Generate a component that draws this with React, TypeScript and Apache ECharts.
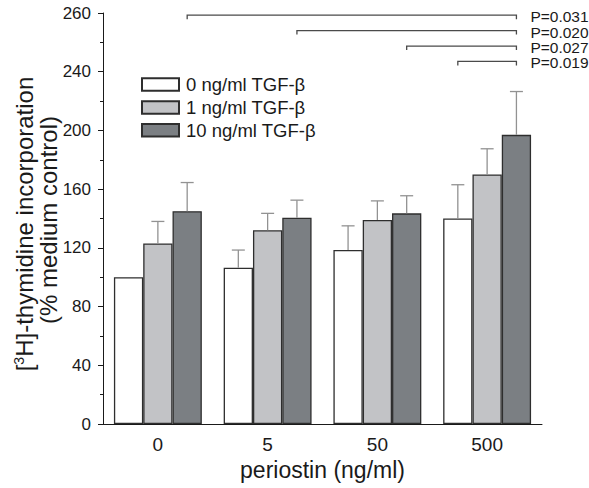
import React, { useEffect, useRef } from "react";
import * as echarts from "echarts";

const categories = ["0", "5", "50", "500"];
const seriesNames = ["0 ng/ml TGF-β", "1 ng/ml TGF-β", "10 ng/ml TGF-β"];
const valWhite = [100, 106.5, 118.5, 140];
const valLight = [123, 132, 139, 170];
const valDark = [145, 140.5, 143.5, 197];
const errWhite = [0, 12, 16.5, 23];
const errLight = [15, 11.5, 13, 17.5];
const errDark = [19.5, 12, 12, 29.5];
// brackets: [fromCategory, fromBar, toCategory, toBar, level]
const bracketFrom = [[0, 2], [1, 2], [2, 2], [3, 0]];
const bracketTo = [3, 2];
const bracketLevels = [278.5, 268, 257.5, 247];
const pLabels = ["P=0.031", "P=0.020", "P=0.027", "P=0.019"];
const yTickTopLabel = "260";

const FONT = "'Liberation Sans', Arial, Helvetica, sans-serif";
const BAR_W = 29.3;
const COLORS = ["#ffffff", "#c2c3c6", "#7b7f83"];
const BORDER = "#2e2e2e";

export default function App() {
  const ref = useRef<HTMLDivElement>(null);
  useEffect(() => {
    if (!ref.current) return;
    const chart = echarts.init(ref.current, null, { renderer: "svg" });
    const vals = [valWhite, valLight, valDark];
    const errs = [errWhite, errLight, errDark];
    const errData: number[][] = [];
    vals.forEach((arr, s) =>
      arr.forEach((v, c) => errData.push([c, s, v, errs[s][c]]))
    );
    const bracketData = bracketFrom.map((f, i) => [
      f[0], f[1], bracketTo[0], bracketTo[1], bracketLevels[i], i,
    ]);

    const barSeries = seriesNames.map((name, s) => ({
      name,
      type: "bar",
      data: vals[s],
      barWidth: BAR_W,
      barGap: "0%",
      itemStyle: { color: COLORS[s], borderColor: BORDER, borderWidth: 1.3 },
      z: 2,
    }));

    chart.setOption({
      animation: false,
      textStyle: { fontFamily: FONT },
      grid: { left: 103, right: 47, top: 13, bottom: 64, containLabel: false },
      legend: {
        data: seriesNames,
        orient: "vertical",
        left: 136,
        top: 69.5,
        itemWidth: 37,
        itemHeight: 12.5,
        itemGap: 2.9,
        icon: "rect",
        selectedMode: false,
        textStyle: {
          fontSize: 18.5,
          lineHeight: 20,
          color: "#1a1a1a",
          fontFamily: FONT,
          padding: [0, 0, 0, 2],
        },
      },
      xAxis: [
        {
          type: "category",
          data: categories,
          position: "bottom",
          axisLine: { lineStyle: { color: "#1a1a1a", width: 1 } },
          axisTick: { alignWithLabel: true, length: 6, lineStyle: { color: "#1a1a1a" } },
          axisLabel: { fontSize: 19, color: "#1a1a1a", margin: 11, fontFamily: FONT },
          name: "periostin (ng/ml)",
          nameLocation: "middle",
          nameGap: 32,
          nameTextStyle: { fontSize: 23, color: "#1a1a1a", fontFamily: FONT },
        },
        {
          type: "category",
          data: categories,
          position: "bottom",
          axisLine: { show: false },
          axisTick: { length: 3, lineStyle: { color: "#1a1a1a" } },
          axisLabel: { show: false },
        },
      ],
      yAxis: {
        type: "value",
        min: 0,
        max: 280,
        interval: 40,
        axisLine: { show: true, lineStyle: { color: "#1a1a1a", width: 1 } },
        axisTick: { show: true, length: 5, lineStyle: { color: "#1a1a1a" } },
        minorTick: { show: true, splitNumber: 2, length: 3, lineStyle: { color: "#1a1a1a" } },
        splitLine: { show: false },
        axisLabel: {
          fontSize: 17,
          color: "#1a1a1a",
          margin: 12,
          fontFamily: FONT,
          formatter: (v: number) => (v === 280 ? yTickTopLabel : String(v)),
        },
      },
      graphic: [
        {
          type: "text",
          x: 24,
          y: 224,
          rotation: Math.PI / 2,
          style: {
            text: "[{sup|3}H]-thymidine incorporation",
            fontSize: 24,
            fontFamily: FONT,
            fill: "#1a1a1a",
            align: "center",
            verticalAlign: "middle",
            rich: {
              sup: { fontSize: 14, verticalAlign: "top", fontFamily: FONT, fill: "#1a1a1a" },
            },
          },
        },
        {
          type: "text",
          x: 48,
          y: 220,
          rotation: Math.PI / 2,
          style: {
            text: "(% medium control)",
            fontSize: 24,
            fontFamily: FONT,
            fill: "#1a1a1a",
            align: "center",
            verticalAlign: "middle",
          },
        },
      ],
      series: [
        ...barSeries,
        {
          type: "custom",
          name: "err",
          data: errData,
          encode: { x: 0, y: 2 },
          z: 3,
          renderItem: (params: any, api: any) => {
            const c = api.value(0);
            const s = api.value(1);
            const v = api.value(2);
            const e = api.value(3);
            if (!e) return null;
            const p0 = api.coord([c, v]);
            const p1 = api.coord([c, v + e]);
            const x = p0[0] + (s - 1) * BAR_W;
            const st = { stroke: "#929292", lineWidth: 1.3 };
            return {
              type: "group",
              children: [
                { type: "line", shape: { x1: x, y1: p0[1], x2: x, y2: p1[1] }, style: st },
                { type: "line", shape: { x1: x - 6.5, y1: p1[1], x2: x + 6.5, y2: p1[1] }, style: st },
              ],
            };
          },
        },
        {
          type: "custom",
          name: "brackets",
          data: bracketData,
          encode: { x: 0, y: 4 },
          clip: false,
          z: 3,
          renderItem: (params: any, api: any) => {
            const c1 = api.value(0);
            const b1 = api.value(1);
            const c2 = api.value(2);
            const b2 = api.value(3);
            const lvl = api.value(4);
            const i = api.value(5);
            const a = api.coord([c1, lvl]);
            const b = api.coord([c2, lvl]);
            const x1 = a[0] + (b1 - 1) * BAR_W;
            const x2 = b[0] + (b2 - 1) * BAR_W;
            const y = a[1];
            const st = { stroke: "#4a4a4a", lineWidth: 1.3, fill: "none" };
            return {
              type: "group",
              children: [
                {
                  type: "polyline",
                  shape: { points: [[x1, y + 4], [x1, y], [x2, y], [x2, y + 4]] },
                  style: st,
                },
                {
                  type: "text",
                  x: x2 + 14,
                  y: y + 1.5,
                  style: {
                    text: pLabels[i],
                    fontSize: 15.5,
                    fontFamily: FONT,
                    fill: "#1a1a1a",
                    align: "left",
                    verticalAlign: "middle",
                  },
                },
              ],
            };
          },
        },
      ],
    });
    return () => chart.dispose();
  }, []);
  return (
    <div
      ref={ref}
      style={{ position: "fixed", left: 0, top: 0, width: 589, height: 488, background: "#fff" }}
    />
  );
}
